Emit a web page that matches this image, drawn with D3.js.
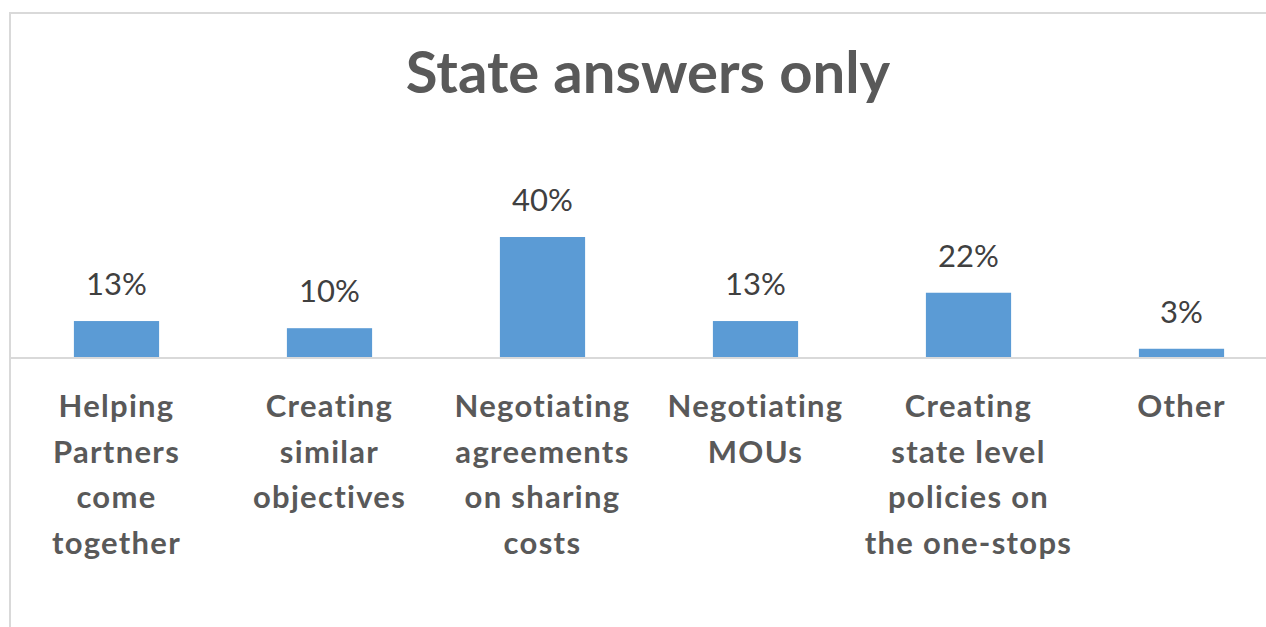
<!DOCTYPE html>
<html>
<head>
<meta charset="utf-8">
<script src="https://cdn.jsdelivr.net/npm/d3@7"></script>
<style>
  html, body { margin: 0; padding: 0; background: #fff; overflow: hidden; }
  svg { display: block; }
</style>
</head>
<body>
<svg id="chart" width="1266" height="627"></svg>
<script>
const title = "State answers only";
const categories = [
  "Helping\nPartners\ncome\ntogether",
  "Creating\nsimilar\nobjectives",
  "Negotiating\nagreements\non sharing\ncosts",
  "Negotiating\nMOUs",
  "Creating\nstate level\npolicies on\nthe one-stops",
  "Other"
];
const values = [12.4, 10, 40.6, 12.4, 21.9, 3.1];
const valueLabels = ["13%", "10%", "40%", "13%", "22%", "3%"];

const svg = d3.select("#chart");
const font = "Lato, 'Open Sans', sans-serif";
const baseY = 358;

// chart frame
svg.append("rect")
  .attr("x", 10).attr("y", 13)
  .attr("width", 1300).attr("height", 700)
  .attr("fill", "#fff")
  .attr("stroke", "#d9d9d9").attr("stroke-width", 2);

const x = d3.scaleBand()
  .domain(categories)
  .range([10, 1288])
  .paddingInner(0.6)
  .paddingOuter(0.3);

const y = d3.scaleLinear()
  .domain([0, 50])
  .range([baseY, baseY - 149]);

// title
svg.append("text")
  .attr("x", 648).attr("y", 93)
  .attr("text-anchor", "middle")
  .attr("font-family", font)
  .attr("font-weight", "bold")
  .attr("font-size", 58)
  .attr("fill", "#595959")
  .text(title);

// bars
svg.selectAll(".bar")
  .data(values)
  .enter().append("rect")
  .attr("class", "bar")
  .attr("x", (d, i) => x(categories[i]))
  .attr("width", x.bandwidth())
  .attr("y", d => y(d))
  .attr("height", d => baseY - y(d))
  .attr("fill", "#5b9bd5");

// axis baseline
const xAxis = d3.axisBottom(x).tickSize(0).tickFormat("");
const axisG = svg.append("g").attr("transform", `translate(0,${baseY})`).call(xAxis);
axisG.select(".domain").attr("stroke", "#d9d9d9").attr("stroke-width", 2)
  .attr("d", "M10,0H1300");

// value labels
svg.selectAll(".vlabel")
  .data(values)
  .enter().append("text")
  .attr("class", "vlabel")
  .attr("x", (d, i) => x(categories[i]) + x.bandwidth() / 2)
  .attr("y", d => y(d) - 26)
  .attr("text-anchor", "middle")
  .attr("font-family", font)
  .attr("font-size", 31)
  .attr("fill", "#404040")
  .text((d, i) => valueLabels[i]);

// category labels
categories.forEach(c => {
  const t = svg.append("text")
    .attr("text-anchor", "middle")
    .attr("font-family", font)
    .attr("font-weight", "bold")
    .attr("font-size", 31)
    .attr("letter-spacing", 1.3)
    .attr("fill", "#595959");
  c.split("\n").forEach((line, j) => {
    t.append("tspan")
      .attr("x", x(c) + x.bandwidth() / 2)
      .attr("y", 417 + j * 45.5)
      .text(line);
  });
});
</script>
</body>
</html>
